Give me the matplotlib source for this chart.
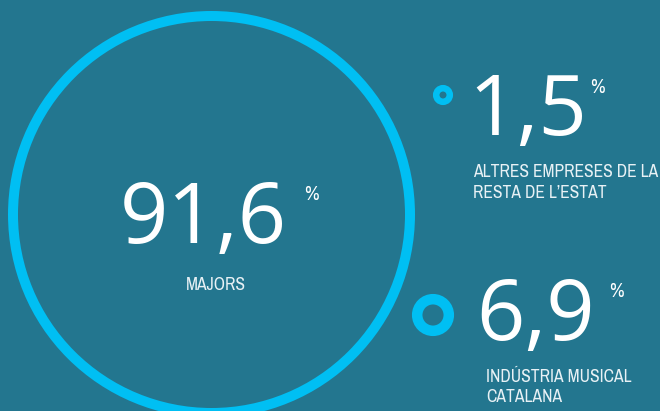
import matplotlib
matplotlib.use('Agg')
import matplotlib.pyplot as plt
from matplotlib.patches import Circle

# Shares of the music market (%)
values = [91.6, 1.5, 6.9]
value_text = ["91,6", "1,5", "6,9"]
labels = ["MAJORS",
          "ALTRES EMPRESES DE LA\nRESTA DE L\u2019ESTAT",
          "IND\u00daSTRIA MUSICAL\nCATALANA"]

BG = '#23768F'
CYAN = '#00BFF3'
W, H = 660, 411

narrow = ['Archivo Narrow', 'Asap Condensed', 'DejaVu Sans']
big_font = ['Open Sans', 'DejaVu Sans']

fig = plt.figure(figsize=(W / 100, H / 100), dpi=100)
fig.set_facecolor(BG)
ax = fig.add_axes([0, 0, 1, 1])
ax.set_facecolor(BG)
ax.set_xlim(0, W)
ax.set_ylim(H, 0)
ax.set_aspect('equal')
ax.axis('off')

PX = 0.72  # points per pixel at dpi 100

# rings: (cx, cy, centerline radius, stroke px)
rings = [(211.5, 214.5, 198.5, 10), (443, 95, 6.8, 6.5), (433, 315, 15.8, 10.5)]
for cx, cy, r, lw in rings:
    ax.add_patch(Circle((cx, cy), r, fill=False, edgecolor=CYAN, linewidth=lw * PX))

# big numbers: (x, baseline), percent (x, baseline), label (x, baseline, ha)
num_pos = [(120, 243), (468, 135), (476, 340)]
pct_pos = [(304, 200), (590, 93), (609, 297)]
lab_pos = [(216, 290, 'center'), (473, 177, 'left'), (486, 382, 'left')]

for i in range(len(values)):
    x, y = num_pos[i]
    ax.text(x, y, value_text[i], color='white', fontsize=61, family=big_font,
            ha='left', va='baseline')
    x, y = pct_pos[i]
    ax.text(x, y, '%', color='white', fontsize=14.5, family=narrow,
            ha='left', va='baseline')
    x, y, ha = lab_pos[i]
    for k, line in enumerate(labels[i].split('\n')):
        ax.text(x, y + k * 20.5, line, color='#E8F1F5', fontsize=12.6,
                family=narrow, ha=ha, va='baseline')

fig.savefig('out.png', dpi=100, facecolor=BG)
